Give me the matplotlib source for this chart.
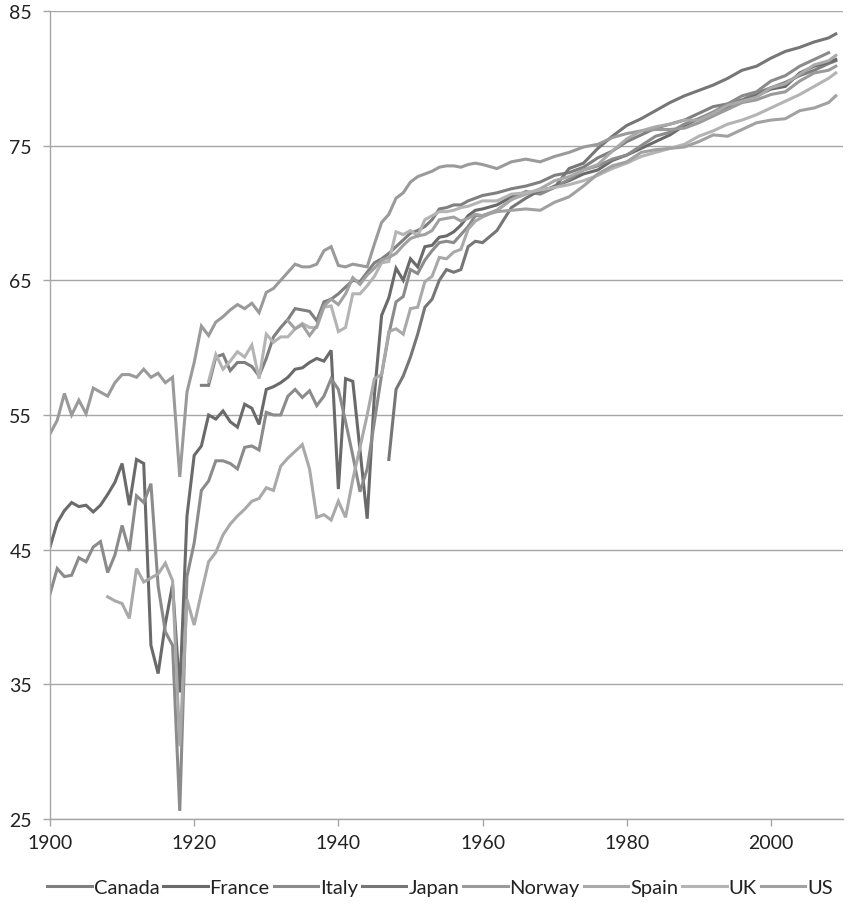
import matplotlib
matplotlib.use("Agg")
import matplotlib.pyplot as plt

# ---------------- data ----------------
late_years = list(range(1962, 2009, 2))

norway_years = list(range(1900, 1961)) + late_years + [2009]
norway = [53.6, 54.6, 56.6, 55.0, 56.1, 55.1, 57.0, 56.7, 56.4, 57.4, 58.0, 58.0, 57.8, 58.4, 57.8, 58.1, 57.4, 57.8, 50.4, 56.7,
          58.9, 61.6, 60.9, 61.9, 62.3, 62.8, 63.2, 62.9, 63.3, 62.6, 64.1, 64.4, 65.0, 65.6, 66.2, 66.0, 66.0, 66.2, 67.2, 67.5,
          66.1, 66.0, 66.2, 66.1, 66.0, 67.7, 69.3, 69.9, 71.1, 71.5, 72.3, 72.7, 72.9, 73.1, 73.4, 73.5, 73.5, 73.4, 73.6, 73.7, 73.6,
          73.3, 73.8, 74.0, 73.8, 74.2, 74.5, 74.9, 75.1, 75.6, 75.9, 76.1, 76.2, 76.2, 76.3, 76.7, 77.2, 77.7, 78.2, 78.4, 78.8,
          79.0, 79.8, 80.4, 80.6, 80.9]

france_years = list(range(1900, 1961)) + late_years + [2009]
france = [45.2, 47.0, 47.9, 48.5, 48.2, 48.3, 47.8, 48.3, 49.1, 50.0, 51.4, 48.3, 51.7, 51.4, 37.9, 35.8, 39.5, 42.4, 34.4, 47.5,
          52.0, 52.7, 55.0, 54.7, 55.3, 54.5, 54.1, 55.8, 55.5, 54.3, 56.9, 57.1, 57.4, 57.8, 58.4, 58.5, 58.9, 59.2, 59.0, 59.8,
          49.5, 57.7, 57.5, 52.4, 47.3, 56.5, 62.4, 63.7, 65.9, 65.0, 66.6, 66.0, 67.5, 67.6, 68.2, 68.3, 68.6, 69.1, 69.8, 70.2, 70.3,
          70.6, 71.2, 71.5, 71.5, 72.0, 72.4, 72.9, 73.2, 73.9, 74.3, 74.8, 75.3, 75.8, 76.5, 77.0, 77.4, 77.9, 78.3, 78.7, 79.2,
          79.4, 80.4, 80.9, 81.2, 81.4]

italy_years = list(range(1900, 1961)) + late_years
italy = [41.7, 43.6, 43.0, 43.1, 44.4, 44.1, 45.2, 45.6, 43.3, 44.6, 46.8, 44.9, 49.0, 48.5, 49.9, 42.3, 38.9, 37.9, 25.6, 43.0,
         45.5, 49.4, 50.1, 51.6, 51.6, 51.4, 51.0, 52.6, 52.7, 52.4, 55.2, 55.0, 55.0, 56.4, 56.9, 56.3, 56.8, 55.7, 56.4, 57.7,
         56.9, 54.5, 52.0, 49.3, 51.0, 54.5, 58.0, 61.0, 63.4, 63.8, 65.8, 65.5, 66.5, 67.2, 67.8, 67.9, 67.8, 68.4, 69.0, 69.8, 69.8,
         70.2, 71.0, 71.6, 71.4, 71.9, 72.5, 73.2, 73.5, 74.0, 74.3, 75.0, 75.7, 76.0, 76.6, 77.0, 77.5, 78.1, 78.7, 79.0, 79.8,
         80.2, 80.9, 81.4, 81.9]

spain_years = list(range(1908, 1961)) + late_years + [2009]
spain = [41.5, 41.2, 41.0, 39.9, 43.6, 42.6, 42.9, 43.2, 44.0, 42.7, 30.4, 41.3,
         39.4, 41.8, 44.1, 44.8, 46.1, 46.9, 47.5, 48.0, 48.6, 48.8, 49.6, 49.4, 51.2, 51.8, 52.3, 52.8, 51.0, 47.4, 47.6, 47.2,
         48.6, 47.4, 50.2, 52.6, 55.0, 57.7, 58.0, 61.2, 61.4, 61.0, 62.9, 63.0, 64.9, 65.3, 66.7, 66.6, 67.1, 67.3, 68.8, 69.4, 69.7,
         70.2, 71.0, 71.4, 71.8, 72.4, 72.7, 73.2, 73.6, 74.6, 75.5, 76.1, 76.4, 76.6, 76.9, 76.9, 77.4, 78.0, 78.3, 78.6, 79.3,
         79.6, 80.3, 81.0, 81.3, 81.7]

japan_years = list(range(1947, 1961)) + late_years + [2009]
japan = [51.7, 56.9, 57.9, 59.3, 61.0, 63.0, 63.6, 65.0, 65.8, 65.6, 65.8, 67.5, 67.9, 67.8,
         68.7, 70.4, 71.1, 71.7, 71.9, 73.3, 73.7, 74.8, 75.7, 76.5, 77.0, 77.6, 78.2, 78.7, 79.1, 79.5, 80.0, 80.6, 80.9, 81.5,
         82.0, 82.3, 82.7, 83.0, 83.3]

canada_years = list(range(1921, 1961)) + late_years + [2009]
canada = [57.2, 57.2, 59.3, 59.5, 58.3, 58.9, 58.9, 58.6, 57.9, 59.2, 60.8, 61.5, 62.1, 62.9, 62.8, 62.7, 62.0, 63.4, 63.6,
          64.0, 64.5, 65.0, 64.9, 65.6, 66.3, 66.6, 67.0, 67.5, 68.0, 68.5, 68.7, 69.0, 69.5, 70.3, 70.4, 70.6, 70.6, 70.9, 71.1, 71.3,
          71.5, 71.8, 72.0, 72.3, 72.8, 73.0, 73.4, 74.1, 74.6, 75.3, 75.8, 76.3, 76.6, 76.9, 77.4, 77.9, 78.1, 78.4, 78.9, 79.3,
          79.7, 80.2, 80.6, 81.1, 81.3]

uk_years = list(range(1922, 1961)) + late_years + [2009]
uk = [57.5, 59.5, 58.4, 59.0, 59.7, 59.3, 60.2, 57.7, 61.0, 60.4, 60.8, 60.8, 61.4, 61.8, 61.5, 61.5, 63.0, 63.1,
      61.2, 61.5, 64.0, 64.0, 64.6, 65.3, 66.3, 66.4, 68.6, 68.4, 68.7, 68.3, 69.5, 69.8, 70.1, 70.1, 70.2, 70.4, 70.5, 70.7, 70.9,
      70.9, 71.4, 71.5, 71.7, 71.9, 72.1, 72.4, 72.8, 73.3, 73.7, 74.2, 74.5, 74.8, 75.1, 75.7, 76.1, 76.6, 76.9, 77.3, 77.8,
      78.3, 78.8, 79.4, 80.0, 80.4]

us_years = list(range(1933, 1961)) + late_years + [2009]
us = [62.0, 61.4, 61.7, 60.9, 61.6, 63.1, 63.6,
      63.2, 64.0, 65.2, 64.7, 65.4, 65.9, 66.5, 66.7, 67.0, 67.6, 68.1, 68.3, 68.4, 68.7, 69.5, 69.6, 69.7, 69.4, 69.6, 69.9, 69.8,
      70.1, 70.2, 70.3, 70.2, 70.8, 71.2, 72.0, 72.9, 73.5, 73.8, 74.5, 74.7, 74.8, 74.9, 75.3, 75.8, 75.7, 76.2, 76.7, 76.9,
      77.0, 77.6, 77.8, 78.2, 78.7]

countries = ["Canada", "France", "Italy", "Japan", "Norway", "Spain", "UK", "US"]
series = {
    "Canada": (canada_years, canada),
    "France": (france_years, france),
    "Italy": (italy_years, italy),
    "Japan": (japan_years, japan),
    "Norway": (norway_years, norway),
    "Spain": (spain_years, spain),
    "UK": (uk_years, uk),
    "US": (us_years, us),
}
colors = {"Canada": "#7f7f7f", "France": "#6a6a6a", "Italy": "#8b8b8b", "Japan": "#767676",
          "Norway": "#9a9a9a", "Spain": "#a9a9a9", "UK": "#b4b4b4", "US": "#a1a1a1"}

y_ticks = [25, 35, 45, 55, 65, 75, 85]
x_ticks = [1900, 1920, 1940, 1960, 1980, 2000]

# ---------------- plot ----------------
plt.rcParams['font.family'] = ['Lato', 'DejaVu Sans']
fig = plt.figure(figsize=(8.47, 9.12), dpi=100)
ax = fig.add_axes([50 / 847, 1 - 820 / 912, 793 / 847, 808 / 912])

for c in countries:
    xs, ys = series[c]
    ax.plot(xs, ys, color=colors[c], lw=2.2, label=c, solid_joinstyle='miter')

ax.set_xlim(1900, 2010)
ax.set_ylim(25, 85)
ax.set_yticks(y_ticks)
ax.set_xticks(x_ticks)
ax.grid(axis='y', color='#a6a6a6', lw=1.0)
ax.set_axisbelow(True)
for s in ['top', 'right']:
    ax.spines[s].set_visible(False)
for s in ['left', 'bottom']:
    ax.spines[s].set_color('#a6a6a6')
    ax.spines[s].set_linewidth(1.0)
ax.tick_params(axis='both', colors='#a6a6a6', labelcolor='#222222', labelsize=14, length=5, width=1.0)
ax.tick_params(axis='y', pad=8)
ax.tick_params(axis='x', pad=6)

handles, labels = ax.get_legend_handles_labels()
fig.legend(handles, labels, loc='center', bbox_to_anchor=(440 / 847, 1 - 888 / 912), ncol=8, frameon=False,
           fontsize=14.5, handlelength=2.2, handletextpad=0.1, columnspacing=0.2, labelcolor='#222222')

fig.savefig("out.png", dpi=100)
